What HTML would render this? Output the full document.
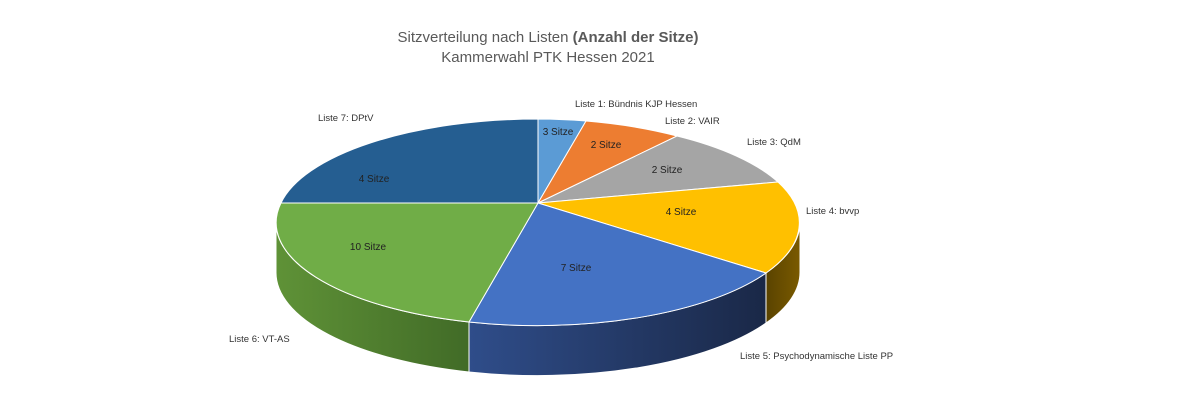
<!DOCTYPE html>
<html><head><meta charset="utf-8"><style>
html,body{margin:0;padding:0;background:#fff;width:1200px;height:408px;overflow:hidden}
text{font-family:"Liberation Sans",sans-serif}
</style></head><body>
<svg width="1200" height="408" viewBox="0 0 1200 408" xmlns="http://www.w3.org/2000/svg">
<defs>
<linearGradient id="gs" x1="276" y1="0" x2="469" y2="0" gradientUnits="userSpaceOnUse"><stop offset="0" stop-color="#5f9237"/><stop offset="1" stop-color="#416b27"/></linearGradient>
<linearGradient id="bs" x1="469" y1="0" x2="766" y2="0" gradientUnits="userSpaceOnUse"><stop offset="0" stop-color="#2f4d8a"/><stop offset="1" stop-color="#1a2847"/></linearGradient>
<linearGradient id="ys" x1="766" y1="0" x2="800" y2="0" gradientUnits="userSpaceOnUse"><stop offset="0" stop-color="#5a4300"/><stop offset="1" stop-color="#7a5a00"/></linearGradient>
</defs>
<text x="548" y="42" font-size="15" fill="#595959" text-anchor="middle">Sitzverteilung nach Listen <tspan font-weight="bold">(Anzahl der Sitze)</tspan></text>
<text x="548" y="62" font-size="15" fill="#595959" text-anchor="middle">Kammerwahl PTK Hessen 2021</text>
<path d="M276,222 A262,103 0 0 0 469,322 L469,372 A262,103 0 0 1 276,272 Z" fill="url(#gs)" stroke="#fff" stroke-width="1"/>
<path d="M469,322 A262,103 0 0 0 766,273 L766,323 A262,103 0 0 1 469,372 Z" fill="url(#bs)" stroke="#fff" stroke-width="1"/>
<path d="M766,273 A262,103 0 0 0 800,222 L800,272 A262,103 0 0 1 766,323 Z" fill="url(#ys)" stroke="#fff" stroke-width="1"/>
<g stroke="#fff" stroke-width="1">
<path d="M538,203 L538,119 A262,103 0 0 1 586,121 Z" fill="#5b9bd5"/>
<path d="M538,203 L586,121 A262,103 0 0 1 677,136 Z" fill="#ed7d31"/>
<path d="M538,203 L677,136 A262,103 0 0 1 778,182 Z" fill="#a5a5a5"/>
<path d="M538,203 L778,182 A262,103 0 0 1 766,273 Z" fill="#ffc000"/>
<path d="M538,203 L766,273 A262,103 0 0 1 469,322 Z" fill="#4472c4"/>
<path d="M538,203 L469,322 A262,103 0 0 1 281,203 Z" fill="#70ad47"/>
<path d="M538,203 L281,203 A262,103 0 0 1 538,119 Z" fill="#255e91"/>
</g>
<g font-size="10" fill="#222" text-anchor="middle">
<text x="558" y="135">3 Sitze</text>
<text x="606" y="148">2 Sitze</text>
<text x="667" y="173">2 Sitze</text>
<text x="681" y="215">4 Sitze</text>
<text x="576" y="271">7 Sitze</text>
<text x="368" y="250">10 Sitze</text>
<text x="374" y="182">4 Sitze</text>
</g>
<g font-size="9.5" fill="#333">
<text x="575" y="107">Liste 1: Bündnis KJP Hessen</text>
<text x="665" y="124">Liste 2: VAIR</text>
<text x="747" y="145">Liste 3: QdM</text>
<text x="806" y="214">Liste 4: bvvp</text>
<text x="740" y="359">Liste 5: Psychodynamische Liste PP</text>
<text x="229" y="342">Liste 6: VT-AS</text>
<text x="318" y="121">Liste 7: DPtV</text>
</g>
</svg>
</body></html>
